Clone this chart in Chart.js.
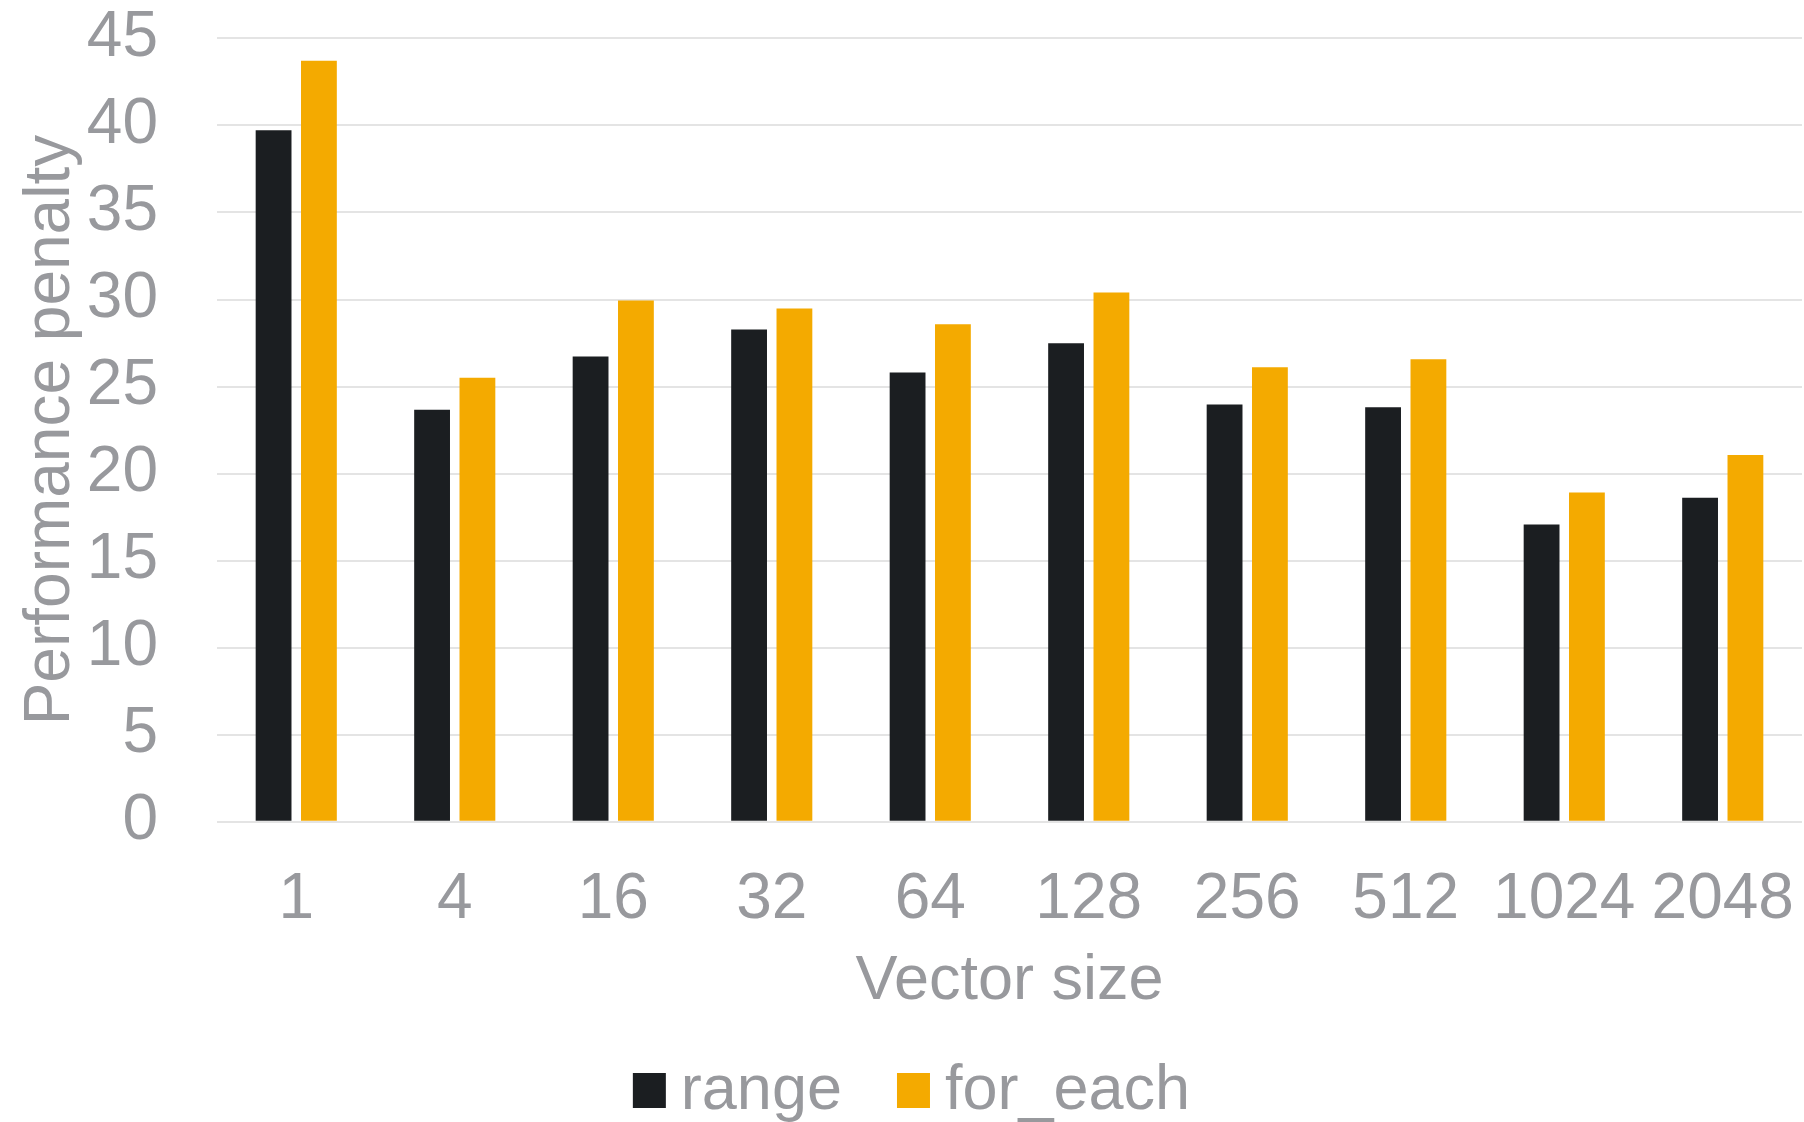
<!DOCTYPE html>
<html>
<head>
<meta charset="utf-8">
<script src="https://cdn.jsdelivr.net/npm/chart.js@4/dist/chart.umd.min.js"></script>
<style>
  html, body { margin: 0; padding: 0; background: #ffffff; }
  #wrap { width: 1804px; height: 1122px; }
</style>
</head>
<body>
<div id="wrap"><canvas id="c" width="1804" height="1122"></canvas></div>
<script>
// Vector sizes on the x axis
const sizes = ['1', '4', '16', '32', '64', '128', '256', '512', '1024', '2048'];
// Performance penalty per vector size
const rangeValues   = [39.73, 23.66, 26.72, 28.27, 25.80, 27.49, 23.97, 23.81, 17.08, 18.61];
const forEachValues = [43.72, 25.50, 29.94, 29.48, 28.58, 30.40, 26.11, 26.57, 18.91, 21.06];
// Y axis ticks
const yTicks = [0, 5, 10, 15, 20, 25, 30, 35, 40, 45];

const FONT = '"Liberation Sans", Arial, sans-serif';
const GREY = '#98999d';
const DARK = '#1b1e21';
const GOLD = '#f4aa00';
const CLEAR = 'rgba(0,0,0,0)';

// Legend drawn below the axis title: square key + label for each series
const bottomKey = {
  id: 'bottomKey',
  afterDraw(chart, args, o) {
    const ctx = chart.ctx;
    ctx.save();
    ctx.font = o.size + 'px ' + FONT;
    const items = chart.data.datasets.map(ds => ({
      text: ds.label,
      color: ds.backgroundColor,
      w: ctx.measureText(ds.label).width
    }));
    const total = items.reduce((s, it) => s + o.boxW + o.gap + it.w, 0) + o.spacing * (items.length - 1);
    let x = o.centerX - total / 2;
    items.forEach(it => {
      ctx.fillStyle = it.color;
      ctx.fillRect(x, o.boxTop, o.boxW, o.boxH);
      ctx.fillStyle = GREY;
      ctx.textBaseline = 'alphabetic';
      ctx.textAlign = 'left';
      ctx.fillText(it.text, x + o.boxW + o.gap, o.baseline);
      x += o.boxW + o.gap + it.w + o.spacing;
    });
    ctx.restore();
  }
};

new Chart(document.getElementById('c'), {
  type: 'bar',
  data: {
    labels: sizes,
    datasets: [
      { label: 'range', data: rangeValues, backgroundColor: DARK },
      { label: 'for_each', data: forEachValues, backgroundColor: GOLD }
    ]
  },
  plugins: [bottomKey],
  options: {
    responsive: false,
    animation: false,
    devicePixelRatio: 1,
    categoryPercentage: 0.572,
    barPercentage: 0.79,
    layout: { padding: { top: 38, right: 2, bottom: 100, left: 0 } },
    plugins: {
      legend: { display: false },
      tooltip: { enabled: false },
      bottomKey: {
        size: 63, boxW: 33, boxH: 35, gap: 15, spacing: 55,
        centerX: 911.5, boxTop: 1073, baseline: 1109
      }
    },
    scales: {
      x: {
        grid: { display: true, color: CLEAR, tickColor: CLEAR, drawTicks: true, tickLength: 40.5 },
        border: { display: false },
        ticks: {
          color: GREY,
          font: { family: FONT, size: 64 },
          padding: 0,
          maxRotation: 0,
          autoSkip: false
        },
        title: {
          display: true,
          text: 'Vector size',
          color: GREY,
          font: { family: FONT, size: 63 },
          padding: { top: 0, bottom: 2.2 }
        },
        afterFit(scale) { scale.height = 200.3; }
      },
      y: {
        min: 0,
        max: 45,
        afterBuildTicks(scale) { scale.ticks = yTicks.map(v => ({ value: v })); },
        grid: { color: '#e4e4e4', lineWidth: 2, drawTicks: true, tickLength: 59, tickColor: CLEAR },
        border: { display: false },
        ticks: {
          color: GREY,
          font: { family: FONT, size: 64 },
          padding: 0
        },
        title: {
          display: true,
          text: 'Performance penalty',
          color: GREY,
          font: { family: FONT, size: 64 },
          padding: { top: 13, bottom: 0 }
        },
        afterFit(scale) { scale.width = 217; }
      }
    }
  }
});
</script>
</body>
</html>
